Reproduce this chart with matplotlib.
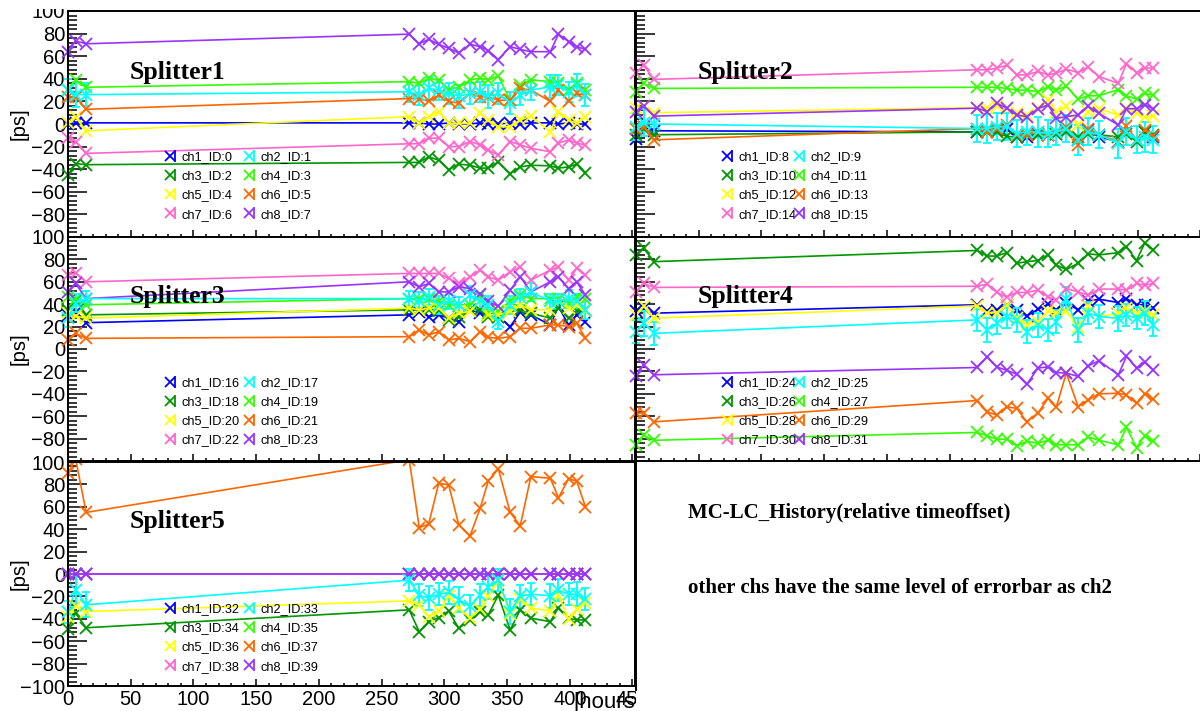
import matplotlib
matplotlib.use("Agg")
import matplotlib.pyplot as plt
from matplotlib.lines import Line2D
from matplotlib.patches import Rectangle
from matplotlib.legend import Legend
from matplotlib.legend_handler import HandlerTuple
from matplotlib.ticker import MultipleLocator, FuncFormatter

plt.rcParams["font.family"] = ["Liberation Sans", "DejaVu Sans"]

# ---------------------------------------------------------------- data
hours = [0, 6, 14.5, 272, 280, 287.5, 295.5, 303.5, 311.5, 320.5, 328.5,
         335, 343, 352.5, 360.5, 369, 384.5, 391, 399, 405.5, 412.5]

channel_names = ["ch1", "ch2", "ch3", "ch4", "ch5", "ch6", "ch7", "ch8"]
channel_colors = ["#0000ff", "#00ffff", "#009600", "#33ff00",
                  "#ffff00", "#ff6600", "#ff66cc", "#9933ff"]

splitter1_ids = [0, 1, 2, 3, 4, 5, 6, 7]
splitter1 = [
    [0, 1, 1, 1, 1, 0, 0, 1, 0, 0, 1, 0, 0, 1, 0, 1, 1, 0, 1, 0, 0],
    [30, 26, 26, 28.5, 25.5, 31.5, 30, 27, 24.5, 27, 28.5, 24.5, 27, 18.5, 25.5, 30, 33, 34.5, 28.5, 34.5, 25.5],
    [-45, -35, -36, -34, -34, -29, -32, -40.5, -35.5, -36.5, -39, -39, -33.5, -44, -38, -36.5, -37, -39, -38, -35.5, -43],
    [30.5, 38.5, 32.5, 37.5, 36, 40.5, 39, 30.5, 32.5, 39, 40.5, 39, 42.5, 21, 34.5, 39, 37.5, 36, 30.5, 36, 30],
    [0.5, 6, -6, 6.5, 0.5, 6.5, 11, 0.5, 0.5, 0.5, 9.5, 3.5, -2.5, -2.5, 3.5, 7, -7, 11, 3.5, 0.5, 6.5],
    [24, 24, 13, 22.5, 22.5, 20, 25.5, 20, 18.5, 27, 24, 24, 21, 21, 31.5, 30, 20, 30, 20, 27, 25.5],
    [-12, -15.5, -26, -17.5, -17.5, -12.5, -12.5, -20, -20, -15.5, -18.5, -23, -27.5, -15.5, -18.5, -21.5, -24.5, -17, -14, -17, -18.5],
    [64, 73.5, 71, 79.5, 71, 75, 70.5, 67, 63, 70.5, 68.5, 65, 57, 68.5, 66, 64, 64, 79.5, 73, 68.5, 66],
]
splitter1_err = [10, 11, 10, 9, 9, 10, 9, 9, 10, 9, 9, 10, 9, 10, 9, 9, 10, 9, 9, 10, 10]

splitter2_ids = [8, 9, 10, 11, 12, 13, 14, 15]
splitter2 = [
    [-13.5, -3, -6, -7, -6, -5.5, -4.5, -11.5, -11.5, -8.5, -9.5, -8.5, -5.5, -14, -5.5, -11.5, -15.5, -7, -14, -7, -11.5],
    [-2.5, 1, 0, -4, -4, -2.5, -2, -8.5, -7, -7, -8.5, -7, -4, -14, -7, -9.5, -17, -7, -14, -11.5, -14],
    [-9.5, -4, -9.5, -7, -7, -7, -11, -11.5, -9.5, -9.5, -9.5, -8.5, -7, -11.5, -8.5, -9.5, -11.5, -8.5, -15.5, -7.5, -9.5],
    [28.5, 36, 31.5, 32.5, 32.5, 32.5, 31.5, 30, 30, 28.5, 33, 30, 33.5, 22, 25, 25, 30.5, 25, 22, 27, 25.5],
    [14, 16, 10, 14.5, 14, 15.5, 13, 9.5, 8, 14, 21, 11, 15.5, -1, 11, 13.5, 8, 14, 9.5, 6.5, 7],
    [-4, -2.5, -14, -4, -7, -4, -1, -9.5, -9.5, -7, -9.5, -7.5, -2.5, -18.5, -4, -9.5, -15.5, -2, -14, -5.5, -11],
    [45, 52, 39.5, 48, 48, 49.5, 52, 43.5, 43.5, 46.5, 43.5, 45, 48.5, 45.5, 50.5, 42, 36, 53.5, 45.5, 49.5, 49.5],
    [11, 15.5, 7, 14, 11, 18.5, 14, 8, 6.5, 13.5, 17, 5, 6.5, 8, 15.5, 9.5, -1, 13.5, 13.5, 17, 13.5],
]
splitter2_err = [12, 12, 11, 12, 13, 12, 12, 12, 12, 13, 12, 12, 12, 13, 12, 12, 13, 12, 12, 13, 12]

splitter3_ids = [16, 17, 18, 19, 20, 21, 22, 23]
splitter3 = [
    [30.5, 33, 23.5, 30.5, 33, 29, 30.5, 27.5, 24.5, 35, 32, 30.5, 29, 20, 33, 30.5, 21.5, 38, 21.5, 30.5, 24.5],
    [27.5, 41, 45, 45, 42.5, 46.5, 39.5, 42.5, 39.5, 48, 42.5, 39.5, 24.5, 39.5, 46.5, 51, 42.5, 42.5, 45, 42.5, 35],
    [35, 44, 30.5, 35, 35, 35, 35, 26, 29, 35, 35, 29, 29, 33.5, 35, 32, 27.5, 36.5, 27.5, 33.5, 35],
    [46.5, 45, 39.5, 45, 45, 45, 42.5, 39.5, 39.5, 39.5, 48, 32, 33.5, 42.5, 48, 45, 45, 45, 41, 46.5, 45],
    [32, 29.5, 27.5, 36.5, 35, 36.5, 36.5, 27.5, 32, 33.5, 42.5, 30.5, 30.5, 33.5, 39.5, 35, 35, 42.5, 36.5, 39.5, 33.5],
    [8, 14, 9.5, 11, 17, 12.5, 15.5, 8, 9.5, 6.5, 15.5, 10.5, 9.5, 11, 18.5, 18.5, 21.5, 21.5, 20, 23, 9.5],
    [66, 68, 60, 67.5, 67.5, 67.5, 67.5, 63, 58.5, 64.5, 70.5, 64.5, 61.5, 69, 73.5, 61.5, 70.5, 73.5, 61.5, 72, 66],
    [51, 58.5, 45, 60, 55.5, 58.5, 51, 51, 55.5, 54, 49.5, 42.5, 38, 52.5, 64.5, 51, 60, 64.5, 54, 60, 48],
]
splitter3_err = [8, 8, 7, 7, 8, 7, 8, 7, 7, 8, 7, 8, 7, 8, 7, 8, 7, 7, 8, 7, 8]

splitter4_ids = [24, 25, 26, 27, 28, 29, 30, 31]
splitter4 = [
    [33.5, 36.5, 32, 39.5, 33.5, 35, 39.5, 35, 29.5, 35.5, 40, 35, 41, 35, 42.5, 44.5, 41.5, 45, 39.5, 39.5, 37],
    [15.5, 23, 14, 26, 17, 23, 29, 26, 15.5, 21.5, 17, 24.5, 45, 17, 32, 29, 27.5, 30.5, 27.5, 32, 21.5],
    [84, 90, 78, 88, 83, 83, 86, 76.5, 78, 79, 84, 75, 71, 76.5, 85, 84, 86, 91.5, 79, 94.5, 88.5],
    [-85.5, -77, -81.5, -74.5, -77.5, -80.5, -80.5, -86.5, -82.5, -84, -81.5, -85.5, -85.5, -85.5, -78.5, -81.5, -85.5, -70, -88, -77.5, -82.5],
    [30.5, 38, 27.5, 38.5, 32, 32.5, 39.5, 27.5, 21.5, 24.5, 33.5, 32, 33.5, 20, 38.5, 29, 32, 36.5, 32, 33.5, 30.5],
    [-57.5, -57, -65, -46, -56, -59, -51.5, -53, -65, -57, -44, -52, -21.5, -51.5, -45.5, -40, -39.5, -41, -48.5, -40, -45],
    [51, 58.5, 55, 56, 58, 50.5, 46.5, 50.5, 50.5, 52.5, 46.5, 44, 54, 51, 48, 53.5, 53.5, 52.5, 58.5, 57, 58.5],
    [-24.5, -14.5, -23, -16.5, -7, -16, -19, -22.5, -31.5, -17, -16, -21, -21.5, -24.5, -15, -10.5, -23, -6.5, -17, -12, -19],
]
splitter4_err = [10, 11, 10, 10, 11, 10, 10, 11, 10, 11, 10, 10, 10, 11, 10, 10, 11, 10, 10, 11, 10]

splitter5_ids = [32, 33, 34, 35, 36, 37, 38, 39]
splitter5 = [
    [0] * 21,
    [-34, -14, -27.5, -5.5, -19, -21.5, -18, -16.5, -23, -29, -19, -11.5, -5.5, -33.5, -20, -18, -19.5, -14.5, -18, -18, -22.5],
    [-49, -35, -48, -32, -51.5, -42.5, -39, -33, -48.5, -41, -33.5, -36.5, -19, -50, -32, -39.5, -42.5, -30, -39.5, -41, -41],
    [0] * 21,
    [-38, -29, -33.5, -24, -27.5, -38, -33, -20, -30.5, -39.5, -31.5, -20, -6, -36, -22.5, -30.5, -33, -19, -40, -31.5, -25.5],
    [90, 103, 55, 102, 41.5, 44.5, 81, 79.5, 44, 34, 58.5, 83, 94, 55, 43, 87, 85.5, 68, 85, 83, 60],
    [0] * 21,
    [0] * 21,
]
splitter5_err = [10, 12, 11, 10, 10, 11, 10, 10, 11, 10, 10, 11, 10, 11, 10, 10, 11, 10, 10, 11, 10]

# ---------------------------------------------------------------- layout
W, H = 1200, 711
fig = plt.figure(figsize=(W / 100, H / 100), dpi=100)
fig.patch.set_facecolor("white")


def rect(x0, y0, x1, y1):
    return [x0 / W, 1 - y1 / H, (x1 - x0) / W, (y1 - y0) / H]


LABEL_FS = 14.5
LEG_FS = 9.2


def style_axes(ax, show_x_labels, show_y_labels, hide_bottom_label):
    ax.set_xlim(0, 452)
    ax.set_ylim(-100, 100)
    ax.xaxis.set_major_locator(MultipleLocator(50))
    ax.xaxis.set_minor_locator(MultipleLocator(10))
    ax.yaxis.set_major_locator(MultipleLocator(20))
    ax.yaxis.set_minor_locator(MultipleLocator(4))
    ax.tick_params(which="both", direction="in", top=False, right=False,
                   width=1.1, labelsize=LABEL_FS, color="black")
    ax.tick_params(axis="y", which="major", length=13.5, pad=2)
    ax.tick_params(axis="y", which="minor", length=6.8)
    ax.tick_params(axis="x", which="major", length=5, pad=3)
    ax.tick_params(axis="x", which="minor", length=2.5)
    ax.tick_params(labelbottom=show_x_labels, labelleft=show_y_labels)
    if hide_bottom_label:
        ax.yaxis.set_major_formatter(
            FuncFormatter(lambda v, p: "" if v <= -100 else f"{v:.0f}".replace("-", "\u2212")))
    for s in ax.spines.values():
        s.set_linewidth(1.4)
    if show_y_labels:
        ax.set_ylabel("[ps]", fontsize=LABEL_FS)
        ax.yaxis.set_label_coords(-0.07, 0.5)


def draw_channels(ax, values, err):
    # markers on the frame edges stay whole; lines are cut at the frame top/bottom
    clip = Rectangle((-0.03, 0), 1.06, 1, transform=ax.transAxes,
                     fc="none", ec="none")
    ax.add_patch(clip)
    for i, (vals, color) in enumerate(zip(values, channel_colors)):
        if i == 1:
            cont = ax.errorbar(hours, vals, yerr=err, fmt="-x", color=color,
                               lw=1.2, ms=8, mew=1.3, elinewidth=1.4,
                               capsize=3, capthick=1.4)
            arts = [cont.lines[0]] + list(cont.lines[1]) + list(cont.lines[2])
        else:
            arts = ax.plot(hours, vals, "-x", color=color, lw=1.2, ms=8, mew=1.3)
        for a in arts:
            a.set_clip_path(clip)


def add_legend(ax, ids, x_col1, x_col2, y_top):
    handles = [(Line2D([], [], ls="none", marker="x", ms=7, mew=1.3, color=c),
                Line2D([], [], ls="none", marker="|", ms=9, mew=1.3, color=c))
               for c in channel_colors]
    labels = [f"{n}_ID:{i}" for n, i in zip(channel_names, ids)]
    for col, x in ((0, x_col1), (1, x_col2)):
        idx = [col, col + 2, col + 4, col + 6]
        leg = Legend(ax, [handles[k] for k in idx], [labels[k] for k in idx],
                     loc="upper left", bbox_to_anchor=(x, y_top),
                     bbox_transform=ax.transAxes, frameon=False,
                     borderpad=0, borderaxespad=0, handlelength=0.8,
                     handletextpad=0.25, labelspacing=0.56, fontsize=LEG_FS,
                     handler_map={tuple: HandlerTuple(ndivide=None, pad=0)})
        ax.add_artist(leg)


def splitter_title(ax, text, y):
    ax.text(0.108, y, text, transform=ax.transAxes, va="baseline", ha="left",
            fontfamily="Liberation Serif", fontweight="bold", fontsize=18.5)


panels = [
    (rect(68, 11, 635, 237), splitter1, splitter1_err, splitter1_ids, "Splitter1", True, 0.699, 0.380),
    (rect(636, 11, 1203, 237), splitter2, splitter2_err, splitter2_ids, "Splitter2", False, 0.699, 0.380),
    (rect(68, 237, 635, 461), splitter3, splitter3_err, splitter3_ids, "Splitter3", True, 0.705, 0.375),
    (rect(636, 237, 1203, 461), splitter4, splitter4_err, splitter4_ids, "Splitter4", False, 0.705, 0.375),
    (rect(68, 462, 635, 686), splitter5, splitter5_err, splitter5_ids, "Splitter5", True, 0.705, 0.370),
]

for k, (pos, vals, err, ids, title, left_col, ty, ly) in enumerate(panels):
    ax = fig.add_axes(pos)
    bottom_row = (k == 4)
    style_axes(ax, show_x_labels=bottom_row, show_y_labels=left_col,
               hide_bottom_label=not bottom_row)
    draw_channels(ax, vals, err)
    splitter_title(ax, title, ty)
    if left_col:
        add_legend(ax, ids, 0.176, 0.3153, ly)
    else:
        add_legend(ax, ids, 0.1566, 0.2836, ly)

# axis title of the time axis
fig.text(641 / W, 1 - 708 / H, "[hours]", ha="right", va="baseline",
         fontsize=16)

# empty lower-right pad: white area with its left border
fig.add_artist(Rectangle((636 / W, 0), 1 - 636 / W, (711 - 462.5) / H,
                         transform=fig.transFigure, fc="white", ec="none", zorder=10))
fig.add_artist(Line2D([636 / W, 636 / W], [1 - 461 / H, 1 - 690 / H],
                      transform=fig.transFigure, color="black", lw=1.4, zorder=11))
# top edge of the upper pad trims its first axis label
fig.add_artist(Rectangle((0, 1 - 9 / H), 66 / W, 9 / H,
                         transform=fig.transFigure, fc="white", ec="none", zorder=10))

fig.text(688 / W, 1 - 518 / H, "MC-LC_History(relative timeoffset)",
         fontfamily="Liberation Serif", fontweight="bold", fontsize=15,
         va="baseline", ha="left", zorder=12)
fig.text(688 / W, 1 - 593 / H, "other chs have the same level of errorbar as ch2",
         fontfamily="Liberation Serif", fontweight="bold", fontsize=15,
         va="baseline", ha="left", zorder=12)

fig.savefig("out.png", dpi=100)
